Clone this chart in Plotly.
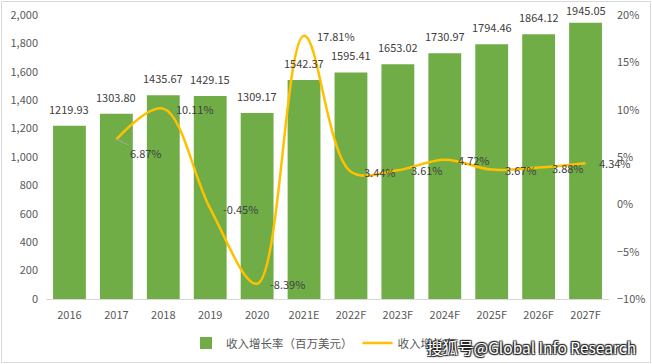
import plotly.graph_objects as go

years = ["2016", "2017", "2018", "2019", "2020", "2021E", "2022F", "2023F", "2024F", "2025F", "2026F", "2027F"]
revenue = [1219.93, 1303.80, 1435.67, 1429.15, 1309.17, 1542.37, 1595.41, 1653.02, 1730.97, 1794.46, 1864.12, 1945.05]
growth_years = years[1:]
growth = [6.87, 10.11, -0.45, -8.39, 17.81, 3.44, 3.61, 4.72, 3.67, 3.88, 4.34]

bar_name = "收入增长率（百万美元）"
line_name = "收入增长率"
watermark = "搜狐号@Global Info Research"

FONT = "Noto Sans CJK SC, Noto Sans, sans-serif"
TXT = "#404040"
TICK = "#595959"

W, H = 652, 364
ML, MR, MT, MB = 46, 43, 15, 65
PW, PH = W - ML - MR, H - MT - MB

def px_x(p):
    return (p - ML) / PW

def px_y(p):
    return (H - MB - p) / PH

fig = go.Figure()
fig.add_trace(go.Bar(
    x=years, y=revenue, name=bar_name,
    marker=dict(color="#70AD47", line=dict(width=0)),
    yaxis="y",
))
fig.add_trace(go.Scatter(
    x=growth_years, y=growth, name=line_name, mode="lines",
    line=dict(color="#FFC000", width=2.5, shape="spline", smoothing=1.0),
    yaxis="y2",
))

annotations = []
for x, v in zip(years, revenue):
    annotations.append(dict(
        x=years.index(x), y=v, xref="x", yref="y", text=f"{v:.2f}", showarrow=False,
        yanchor="bottom", yshift=7 if v < 1900 else 3, font=dict(family=FONT, size=11, color=TXT),
    ))
for i, (x, v) in enumerate(zip(growth_years, growth)):
    xi = years.index(x)
    if i == 0:
        annotations.append(dict(
            x=xi, y=v, xref="x", yref="y2", text=f"{v:.2f}%", showarrow=True,
            arrowhead=0, arrowwidth=1, arrowcolor="#A6A6A6", ax=30, ay=14,
            font=dict(family=FONT, size=11, color=TXT),
        ))
    else:
        annotations.append(dict(
            x=xi, y=v, xref="x", yref="y2", text=f"{v:.2f}%", showarrow=False,
            xanchor="left", xshift=11, font=dict(family=FONT, size=11, color=TXT),
        ))

annotations.append(dict(
    x=px_x(426), y=px_y(347), xref="paper", yref="paper", text=watermark,
    showarrow=False, xanchor="left", yanchor="middle", borderpad=0,
    font=dict(family=FONT, size=15.5, color="white",
              shadow="1px 1px 1px #222, -1px -1px 1px #222, 1px -1px 1px #222, -1px 1px 1px #222"),
))

fig.update_layout(
    template="none",
    width=W, height=H,
    margin=dict(l=ML, r=MR, t=MT, b=MB, pad=0, autoexpand=False),
    paper_bgcolor="white", plot_bgcolor="white",
    font=dict(family=FONT, size=11, color=TICK),
    bargap=0.3,
    showlegend=True,
    legend=dict(orientation="h", x=px_x(186), y=px_y(343), xanchor="left", yanchor="middle",
                font=dict(family=FONT, size=11.5, color=TICK), bgcolor="rgba(0,0,0,0)",
                itemwidth=30, tracegroupgap=0, borderwidth=0),
    xaxis=dict(type="category", range=[-0.5, len(years) - 0.5], autorange=False, automargin=False,
               showgrid=False, showline=True, linecolor="#D9D9D9", linewidth=1, zeroline=False,
               ticks="", tickfont=dict(family=FONT, size=11, color=TICK), ticklabelstandoff=6),
    yaxis=dict(range=[0, 2000], dtick=200, tickformat=",", showgrid=False, showline=False,
               automargin=False, zeroline=False, ticks="",
               tickfont=dict(family=FONT, size=11, color=TICK), ticklabelstandoff=7),
    yaxis2=dict(range=[-10, 20], dtick=5, ticksuffix="%", overlaying="y", side="right",
                automargin=False, showgrid=False, showline=False, zeroline=False, ticks="",
                tickfont=dict(family=FONT, size=11, color=TICK), ticklabelstandoff=7),
    annotations=annotations,
    shapes=[dict(type="rect", xref="paper", yref="paper",
                 x0=px_x(1.5), x1=px_x(650.5), y0=px_y(362.5), y1=px_y(1.5),
                 line=dict(color="#D9D9D9", width=1), fillcolor="rgba(0,0,0,0)", layer="below")],
)

fig.write_html("out.html", config={"displayModeBar": False},
               post_script="document.body.style.margin='0';document.body.style.overflow='hidden';")
